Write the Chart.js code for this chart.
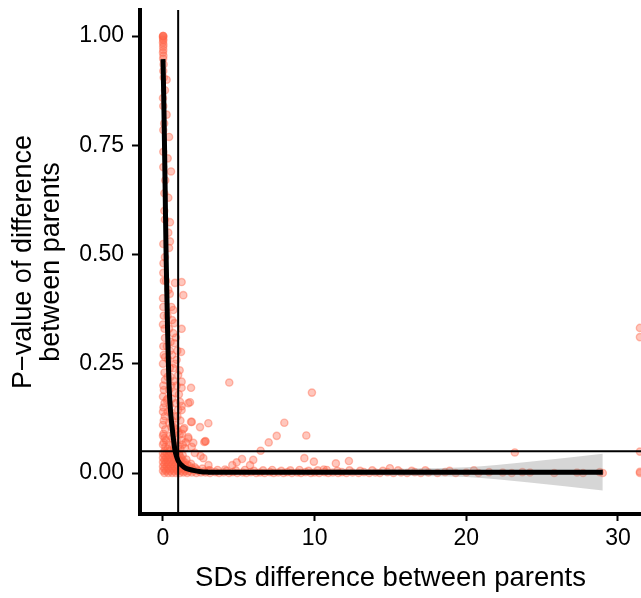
<!DOCTYPE html>
<html>
<head>
<meta charset="utf-8">
<script src="https://cdn.jsdelivr.net/npm/chart.js@4.4.1/dist/chart.umd.min.js"></script>
<style>
  html, body { margin: 0; padding: 0; background: #fff; }
  canvas { display: block; }
</style>
</head>
<body>
<canvas id="myChart" width="641" height="598"></canvas>
<script>
// axis ticks
const xTicks = [0, 10, 20, 30];
const yTicks = [0, 0.25, 0.5, 0.75, 1];

// cut-offs
const sdCutoff = 1;
const pCutoff = 0.05;

// points [sd difference, p-value]
const columnPoints = [
  [0,1.0],[0.01,1.0],[0.02,1.0],[0,0.997],[0.01,0.993],[0.02,0.99],[0,0.985],[0.03,0.98],[0.01,0.975],
  [0.02,0.968],[0,0.962],[0.03,0.955],[0.01,0.948],[0.04,0.935],[0.02,0.92],[0.05,0.905],
  [0.24,0.90],[0.13,0.876],[0,0.858],[0.02,0.84],[0.24,0.82],[0.08,0.80],[0.02,0.785],[0.40,0.769],
  [0.02,0.735],[0.31,0.72],[0.02,0.70],[0.53,0.69],[0.15,0.67],[0.09,0.64],[0.35,0.63],[0.09,0.60],
  [0.13,0.58],[0.46,0.574],[0.35,0.55],[0.02,0.524],[0.46,0.53],[0.40,0.515],[0.13,0.494],[0.03,0.48],
  [0.02,0.458],[0.06,0.44],[0.35,0.419],[0.79,0.435],[1.23,0.437],[1.34,0.407],[0,0.40],[0.02,0.38],
  [0.68,0.373],[0.05,0.36],[0.75,0.343],[0,0.34],[1.23,0.33],[0.1,0.33],[0.68,0.32],[0.13,0.309],
  [0.75,0.297],[0.02,0.29],[0.45,0.28],[1.19,0.277],[0.05,0.27],[0.13,0.265],[0.9,0.259],[0,0.25],
  [0.68,0.24],[0.1,0.23],[1.0,0.224],[0.5,0.22],[0.13,0.213],[1.23,0.209],[0.02,0.2],[0.55,0.2],
  [1.85,0.195],[1.23,0.195],[0.06,0.19],[0.79,0.183],[0,0.175],[0.6,0.17],[0.24,0.167],[1.12,0.163],
  [1.78,0.162],[1.67,0.16],[0.1,0.16],[1.23,0.153],[0.03,0.15],[1.23,0.144],[0,0.14],[0.5,0.14],
  [0.7,0.13],[0.12,0.13],[0.05,0.12],[0.6,0.12],[1.85,0.117],[1.9,0.117],[0.8,0.11],[0,0.11],
  [0.55,0.105],[2.44,0.105],[1.4,0.103],[0.15,0.1],[1.34,0.1],[0.9,0.1],[1.0,0.094],[0.7,0.09],
  [0.03,0.09],[1.1,0.088],[0,0.085],[1.67,0.082],[0.1,0.08],[0.6,0.08],[1.67,0.079],[0.2,0.075],
  [0.9,0.075],[1.2,0.075],[2.72,0.071],[0.8,0.07],[0.05,0.07],[2.0,0.069],[0,0.065],[0.65,0.065],
  [1.3,0.065],[1.0,0.062],[0.15,0.06],[1.9,0.06],[0.75,0.058],[1.45,0.057],[0.3,0.055],[2.1,0.046],
  [0.2,0.44],[0.45,0.41],[0.55,0.38],[0.3,0.36],[0.6,0.35],[0.4,0.33],[0.85,0.31],[0.5,0.3],
  [0.25,0.29],[0.95,0.28],[0.6,0.27],[0.35,0.26],[0.8,0.25],[0.45,0.24],[1.1,0.235],[0.3,0.22],
  [0.7,0.21],[0.9,0.2],[0.4,0.19],[1.05,0.18],[0.3,0.17],[0.85,0.16],[0.45,0.155],[1.0,0.145],
  [0.3,0.14],[0.95,0.13],[1.15,0.12],[0.4,0.115],[0.7,0.105],[1.25,0.09],[0.45,0.085],[1.5,0.07],
  [0.4,0.065],[1.15,0.055]
];

const clusterPoints = [
  [0.1,0.05],[0.4,0.05],[0.7,0.05],[0.9,0.05],
  [0,0.045],[0.25,0.045],[0.55,0.045],[0.8,0.045],[1.05,0.045],
  [0.1,0.04],[0.35,0.04],[0.6,0.04],[0.85,0.04],[1.1,0.04],[1.3,0.041],
  [0,0.035],[0.2,0.035],[0.45,0.035],[0.7,0.035],[0.95,0.035],[1.2,0.034],
  [0.1,0.03],[0.3,0.03],[0.55,0.03],[0.8,0.03],[1.05,0.03],[1.3,0.029],[1.55,0.031],
  [0,0.025],[0.2,0.025],[0.45,0.025],[0.7,0.025],[0.95,0.025],[1.2,0.025],[1.45,0.024],
  [0.1,0.02],[0.35,0.02],[0.6,0.02],[0.85,0.02],[1.1,0.02],[1.35,0.02],[1.6,0.019],[1.85,0.021],
  [0,0.015],[0.25,0.015],[0.5,0.015],[0.75,0.015],[1.0,0.015],[1.25,0.015],[1.5,0.014],[1.75,0.016],[2.1,0.013],
  [0.1,0.01],[0.35,0.01],[0.6,0.01],[0.85,0.01],[1.1,0.01],[1.35,0.01],[1.6,0.009],[1.9,0.011],[2.2,0.009],[2.6,0.01],
  [0,0.005],[0.2,0.005],[0.45,0.005],[0.7,0.005],[0.95,0.005],[1.2,0.005],[1.45,0.005],[1.7,0.004],[2.0,0.006],[2.3,0.005],[2.7,0.004],[3.1,0.006],
  [0.1,0],[0.35,0],[0.6,0],[0.85,0],[1.1,0],[1.35,0.001],[1.6,0],[1.9,0.001],[2.2,0],[2.5,0.001]
];

const stripPoints = [
  [2.8,0.001],[3.1,0],[3.45,0.002],[3.7,0],[4.0,0.001],[4.35,0],[4.6,0.002],[4.9,0],[5.25,0.001],[5.5,0],
  [5.8,0.002],[6.15,0],[6.4,0.001],[6.7,0],[7.05,0.002],[7.3,0],[7.6,0.001],[7.95,0],[8.2,0.002],[8.5,0],
  [8.85,0.001],[9.1,0],[9.4,0.002],[9.75,0],[10.0,0.001],[10.3,0],[10.65,0.002],[10.9,0],[11.2,0.001],[11.55,0],
  [11.8,0.002],[12.1,0],[12.5,0.001],[12.9,0],[13.25,0.002],[13.6,0],[14.0,0.001],[14.3,0],[14.8,0.002],[15.2,0],
  [15.7,0.001],[16.1,0],[16.6,0.002],[17.0,0],[17.5,0.001],[18.1,0],[18.6,0.002],[19.3,0],[20.0,0.001],[20.8,0],
  [21.5,0.002],[22.4,0.001],[23.0,0],[23.7,0.002],[24.2,0.001],[25.8,0],[27.3,0.001],[27.7,0],[28.8,0.002],[29.0,0],
  [3.0,0.006],[3.6,0.007],[4.2,0.005],[4.8,0.006],[5.4,0.007],[6.0,0.005],[6.6,0.006],[7.2,0.007],[7.8,0.005],
  [8.4,0.006],[9.0,0.007],[9.6,0.005],[10.2,0.006],[10.8,0.007],[11.5,0.005],[12.3,0.006],[13.0,0.005],
  [13.8,0.006],[14.5,0.005],[15.5,0.006],[16.4,0.005],[17.3,0.006],[18.9,0.005],[20.5,0.006]
];

const scatterPoints = [
  [4.37,0.207],[9.82,0.184],[2.99,0.114],[8.0,0.115],[2.79,0.073],[2.8,0.072],[7.5,0.085],[6.97,0.070],
  [9.45,0.086],[6.44,0.051],[2.66,0.034],[2.48,0.039],[5.21,0.032],[5.95,0.030],[4.86,0.0245],[4.57,0.018],
  [5.74,0.018],[3.0,0.018],[9.32,0.034],[9.95,0.026],[11.4,0.022],[12.26,0.0275],[10.6,0.008],[4.09,0.008],
  [23.2,0.047],[14.96,0.011],[31.45,0.332],[31.45,0.311],[31.45,0.049],[31.45,0.0],[31.45,0.003]
];

// loess fit and its confidence band
const curveX = [0, 0.05, 0.1, 0.15, 0.2, 0.25, 0.3, 0.35, 0.4, 0.5, 0.6, 0.7, 0.8, 0.9, 1.0, 1.2, 1.5, 2, 2.5, 3, 4, 6, 9, 12, 16, 20, 24, 29];
const curveY = [0.947, 0.86, 0.75, 0.63, 0.51, 0.42, 0.33, 0.26, 0.20, 0.14, 0.105, 0.075, 0.05, 0.037, 0.028, 0.019, 0.011, 0.006, 0.003, 0.002, 0.0015, 0.0015, 0.002, 0.002, 0.002, 0.002, 0.002, 0.002];
const bandHigh = [0.977, 0.888, 0.775, 0.652, 0.53, 0.438, 0.346, 0.274, 0.212, 0.15, 0.114, 0.083, 0.057, 0.043, 0.034, 0.024, 0.016, 0.01, 0.007, 0.006, 0.0055, 0.0055, 0.007, 0.008, 0.01, 0.013, 0.025, 0.044];
const bandLow = [0.917, 0.832, 0.725, 0.608, 0.49, 0.402, 0.314, 0.246, 0.188, 0.13, 0.096, 0.067, 0.043, 0.031, 0.022, 0.014, 0.006, 0.002, -0.001, -0.002, -0.0025, -0.0025, -0.003, -0.004, -0.006, -0.009, -0.021, -0.040];

const xMin = -1.516, xMax = 31.52;
const yMin = -0.0938, yMax = 1.0595;

const toXY = p => ({ x: p[0], y: p[1] });
const allPoints = columnPoints.concat(clusterPoints, stripPoints, scatterPoints).map(toXY);
const series = ys => curveX.map((x, i) => ({ x: x, y: ys[i] }));

const FONT = "'Liberation Sans', Arial, Helvetica, sans-serif";

// drop the extra room Chart.js keeps for edge tick labels
function noEdgePadding(scale) {
  scale.paddingTop = 0;
  scale.paddingBottom = 0;
  scale.paddingLeft = 0;
  scale.paddingRight = 0;
}

const ctx = document.getElementById('myChart').getContext('2d');
const myChart = new Chart(ctx, {
  type: 'scatter',
  data: {
    datasets: [
      {
        type: 'line',
        data: [{ x: xMin - 1, y: pCutoff }, { x: xMax + 1, y: pCutoff }],
        borderColor: '#000', borderWidth: 2, pointRadius: 0, fill: false, order: 0
      },
      {
        type: 'line',
        data: [{ x: sdCutoff, y: yMin - 0.1 }, { x: sdCutoff, y: yMax + 0.1 }],
        borderColor: '#000', borderWidth: 2, pointRadius: 0, fill: false, order: 0
      },
      {
        type: 'line',
        data: series(curveY),
        borderColor: '#000', borderWidth: 5, pointRadius: 0, fill: false,
        cubicInterpolationMode: 'monotone', order: 1
      },
      {
        type: 'line',
        data: series(bandHigh),
        borderWidth: 0, borderColor: 'rgba(0,0,0,0)', pointRadius: 0,
        backgroundColor: 'rgba(153,153,153,0.4)', fill: '+1',
        cubicInterpolationMode: 'monotone', order: 2
      },
      {
        type: 'line',
        data: series(bandLow),
        borderWidth: 0, borderColor: 'rgba(0,0,0,0)', pointRadius: 0, fill: false,
        cubicInterpolationMode: 'monotone', order: 2
      },
      {
        data: allPoints,
        pointRadius: 3.6,
        borderWidth: 1.4,
        backgroundColor: 'rgba(255,99,71,0.36)',
        borderColor: 'rgba(255,99,71,0.42)',
        order: 3
      }
    ]
  },
  options: {
    responsive: false,
    animation: false,
    layout: { autoPadding: false, padding: { top: 10, right: 0, left: 0, bottom: 0 } },
    plugins: { legend: { display: false }, tooltip: { enabled: false } },
    scales: {
      x: {
        type: 'linear',
        min: xMin, max: xMax,
        afterBuildTicks: axis => { axis.ticks = xTicks.map(v => ({ value: v })); },
        afterFit: scale => { scale.height = 84; noEdgePadding(scale); },
        border: { display: true, color: '#000', width: 4 },
        grid: { display: true, drawOnChartArea: false, drawTicks: true, tickLength: 7, tickWidth: 2, tickColor: '#000' },
        ticks: { color: '#000', padding: 4, font: { family: FONT, size: 23 }, maxRotation: 0 },
        title: {
          display: true, text: 'SDs difference between parents', color: '#000',
          font: { family: FONT, size: 27.5, lineHeight: 1.08 },
          padding: { top: 0, bottom: 5 }
        }
      },
      y: {
        type: 'linear',
        min: yMin, max: yMax,
        afterBuildTicks: axis => { axis.ticks = yTicks.map(v => ({ value: v })); },
        afterFit: scale => { scale.width = 140; noEdgePadding(scale); },
        border: { display: true, color: '#000', width: 4 },
        grid: { display: true, drawOnChartArea: false, drawTicks: true, tickLength: 8, tickWidth: 2, tickColor: '#000' },
        ticks: {
          color: '#000', padding: 8, font: { family: FONT, size: 23 },
          callback: v => v.toFixed(2)
        },
        title: {
          display: true, text: ['P\u2212value of difference', 'between parents'], color: '#000',
          font: { family: FONT, size: 27, lineHeight: 1.06 },
          padding: { top: 9, bottom: 0 }
        }
      }
    }
  }
});
</script>
</body>
</html>
